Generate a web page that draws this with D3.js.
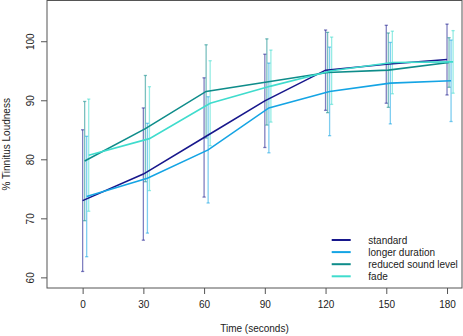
<!DOCTYPE html>
<html>
<head>
<meta charset="utf-8">
<script src="https://cdn.jsdelivr.net/npm/d3@7"></script>
<style>
  body { margin: 0; background: #fff; }
  svg { display: block; font-family: "Liberation Sans", Arial, sans-serif; overflow: visible; }
</style>
</head>
<body>
<svg width="463" height="336"></svg>
<script>
// data
const times = [0, 30, 60, 90, 120, 150, 180];
const seriesNames = ["standard", "longer duration", "reduced sound level", "fade"];
const standardMean = [73.0, 77.5, 83.7, 89.9, 95.1, 96.1, 96.9];
const standardErr  = [12.0, 11.2, 10.1, 7.9, 6.8, 6.6, 6.0];
const longerMean   = [73.7, 76.8, 81.6, 88.7, 91.5, 92.9, 93.3];
const longerErr    = [10.2, 9.3, 9.0, 7.6, 7.5, 6.9, 6.9];
const reducedMean  = [79.7, 85.2, 91.5, 93.1, 94.7, 95.1, 96.4];
const reducedErr   = [10.1, 9.0, 7.9, 7.3, 6.8, 6.3, 4.2];
const fadeMean     = [80.7, 83.5, 89.5, 92.4, 95.0, 96.4, 96.5];
const fadeErr      = [9.5, 8.8, 7.2, 6.1, 5.7, 5.3, 5.3];
const xTicks = [0, 30, 60, 90, 120, 150, 180];
const yTicks = [60, 70, 80, 90, 100];

const means = [standardMean, longerMean, reducedMean, fadeMean];
const errs = [standardErr, longerErr, reducedErr, fadeErr];
const colors = ["#17178c", "#14a4e4", "#0e8c8a", "#3fdccd"];
const jitter = [0, 2, 1, 3]; // small horizontal dodge, in seconds

const svg = d3.select("svg");
const width = +svg.attr("width");
const height = +svg.attr("height");
const margin = { top: 0.5, right: 1, bottom: 48, left: 47 };
const innerWidth = width - margin.left - margin.right;
const innerHeight = height - margin.top - margin.bottom;

const xScale = d3.scaleLinear()
  .domain([-17.6, 187.4])
  .range([0, innerWidth]);

const yScale = d3.scaleLinear()
  .domain([58.2, 106.9])
  .range([innerHeight, 0]);

const g = svg.append("g")
  .attr("transform", `translate(${margin.left}, ${margin.top})`);

const series = seriesNames.map((name, i) => ({
  name,
  color: colors[i],
  points: times.map((t, j) => ({ t: t + jitter[i], m: means[i][j], e: errs[i][j] }))
}));

// error bars
series.forEach(s => {
  const bars = g.append("g")
    .attr("stroke", s.color)
    .attr("stroke-opacity", 0.55)
    .attr("stroke-width", 1.3);
  bars.selectAll(null).data(s.points).enter().append("line")
    .attr("x1", d => xScale(d.t)).attr("x2", d => xScale(d.t))
    .attr("y1", d => yScale(d.m - d.e)).attr("y2", d => yScale(d.m + d.e));
  [-1, 1].forEach(sign => {
    bars.selectAll(null).data(s.points).enter().append("line")
      .attr("x1", d => xScale(d.t) - 1.6).attr("x2", d => xScale(d.t) + 1.6)
      .attr("y1", d => yScale(d.m + sign * d.e)).attr("y2", d => yScale(d.m + sign * d.e));
  });
});

// mean lines
const line = d3.line()
  .x(d => xScale(d.t))
  .y(d => yScale(d.m));

series.forEach(s => {
  g.append("path")
    .datum(s.points)
    .attr("fill", "none")
    .attr("stroke", s.color)
    .attr("stroke-width", 1.6)
    .attr("d", line);
});

// box
g.append("rect")
  .attr("width", innerWidth)
  .attr("height", innerHeight)
  .attr("fill", "none")
  .attr("stroke", "#555");

// axes
const xAxis = d3.axisBottom(xScale)
  .tickValues(xTicks)
  .tickSize(6)
  .tickPadding(7);
const xAxisG = g.append("g")
  .attr("transform", `translate(0, ${innerHeight})`)
  .call(xAxis);
xAxisG.select(".domain").remove();

const yAxis = d3.axisLeft(yScale)
  .tickValues(yTicks)
  .tickSize(6);
const yAxisG = g.append("g").call(yAxis);
yAxisG.select(".domain").remove();
// R style: y labels run parallel to the axis
yAxisG.selectAll("text")
  .attr("x", 0)
  .attr("dy", null)
  .attr("text-anchor", "middle")
  .attr("transform", "translate(-13, 0) rotate(-90)");

[xAxisG, yAxisG].forEach(ax => {
  ax.attr("font-family", null).attr("font-size", null);
  ax.selectAll("line").attr("stroke", "#555");
  ax.selectAll("text").attr("fill", "#222").style("font-size", "10px");
});

// axis titles
g.append("text")
  .attr("x", innerWidth / 2)
  .attr("y", innerHeight + 44)
  .attr("text-anchor", "middle")
  .attr("fill", "#222")
  .style("font-size", "10px")
  .text("Time (seconds)");

g.append("text")
  .attr("transform", `translate(${-37.5}, ${innerHeight / 2}) rotate(-90)`)
  .attr("text-anchor", "middle")
  .attr("fill", "#222")
  .style("font-size", "10px")
  .text("% Tinnitus Loudness");

// legend
const legend = g.append("g")
  .attr("transform", `translate(${331.7 - margin.left}, ${240 - margin.top})`);
series.forEach((s, i) => {
  const row = legend.append("g").attr("transform", `translate(0, ${i * 12.1})`);
  row.append("line")
    .attr("x1", 0).attr("x2", 19)
    .attr("stroke", s.color)
    .attr("stroke-width", 2);
  row.append("text")
    .attr("x", 36.6)
    .attr("dy", "0.35em")
    .attr("fill", "#222")
    .style("font-size", "10px")
    .text(s.name);
});
</script>
</body>
</html>
